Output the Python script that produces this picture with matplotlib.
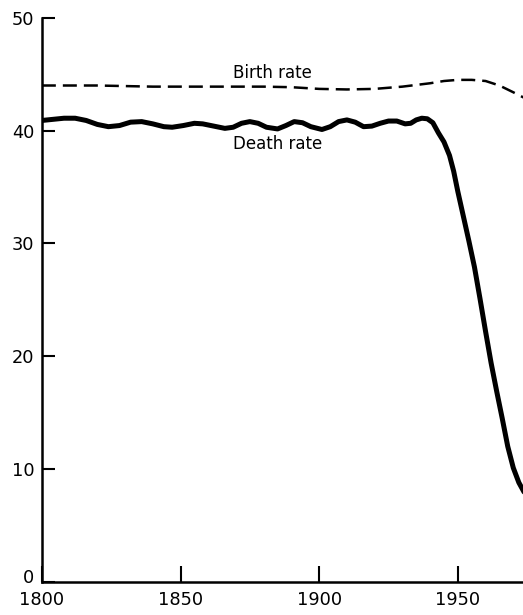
import matplotlib
matplotlib.use("Agg")
import matplotlib.pyplot as plt
from matplotlib.transforms import ScaledTranslation

# birth rate (dashed), per 1000
birth_years = [1800, 1820, 1840, 1860, 1880, 1890, 1900, 1910, 1920, 1930,
               1940, 1945, 1950, 1955, 1960, 1965, 1970, 1974]
birth_rate = [44.0, 44.0, 43.9, 43.9, 43.9, 43.85, 43.7, 43.65, 43.7, 43.9,
              44.2, 44.4, 44.5, 44.5, 44.4, 44.0, 43.4, 42.9]

# death rate (solid, wavy then dropping)
death_years = [1800, 1804, 1808, 1812, 1816, 1820, 1824, 1828, 1832, 1836,
               1840, 1844, 1847, 1851, 1855, 1858, 1862, 1866, 1869, 1872,
               1875, 1878, 1881, 1885, 1888, 1891, 1894, 1897, 1901, 1904,
               1907, 1910, 1913, 1916, 1919, 1922, 1925, 1928, 1931, 1933,
               1935, 1937, 1939, 1941, 1943, 1945, 1947, 1948.5, 1950, 1952,
               1954, 1956, 1958, 1960, 1962, 1964, 1966, 1968, 1970, 1972,
               1974]
death_rate = [40.9, 41.0, 41.1, 41.1, 40.9, 40.55, 40.35, 40.45, 40.75, 40.8,
              40.6, 40.35, 40.3, 40.45, 40.65, 40.6, 40.4, 40.2, 40.3, 40.65,
              40.8, 40.65, 40.3, 40.15, 40.45, 40.8, 40.7, 40.35, 40.1, 40.35,
              40.8, 40.95, 40.75, 40.35, 40.4, 40.65, 40.85, 40.85, 40.6, 40.65,
              40.95, 41.1, 41.05, 40.7, 39.8, 39.0, 37.8, 36.4, 34.6, 32.4,
              30.2, 27.9, 25.1, 22.2, 19.4, 16.9, 14.5, 12.0, 10.1, 8.8,
              7.9]

x_ticks = [1800, 1850, 1900, 1950]
y_ticks = [0, 10, 20, 30, 40, 50]

fig = plt.figure(figsize=(5.23, 6.15), dpi=100)
ax = fig.add_axes([0.080, 0.054, 0.92, 0.917])

ax.plot(birth_years, birth_rate, color="black", lw=1.8, dashes=(5.6, 2.8))
ax.plot(death_years, death_rate, color="black", lw=3.6,
        solid_capstyle="round", solid_joinstyle="round")

ax.text(1883, 45.15, "Birth rate", fontsize=12, ha="center", va="center")
ax.text(1885, 38.8, "Death rate", fontsize=12, ha="center", va="center")

ax.set_xlim(1800, 1973.5)
ax.set_ylim(0, 50)
ax.set_xticks(x_ticks)
ax.set_yticks(y_ticks)

for s in ["top", "right"]:
    ax.spines[s].set_visible(False)
for s in ["left", "bottom"]:
    ax.spines[s].set_linewidth(1.8)

ax.tick_params(axis="y", direction="in", length=9.5, width=1.5,
               labelsize=12.8, pad=5.5)
ax.tick_params(axis="x", direction="in", length=11.5, width=1.5,
               labelsize=12.8, pad=6.5)

# the "0" sits a little above its tick in the original
zero = ax.get_yticklabels()[0]
zero.set_transform(zero.get_transform()
                   + ScaledTranslation(0, 4 / 72, fig.dpi_scale_trans))

fig.savefig("out.png", dpi=100)
